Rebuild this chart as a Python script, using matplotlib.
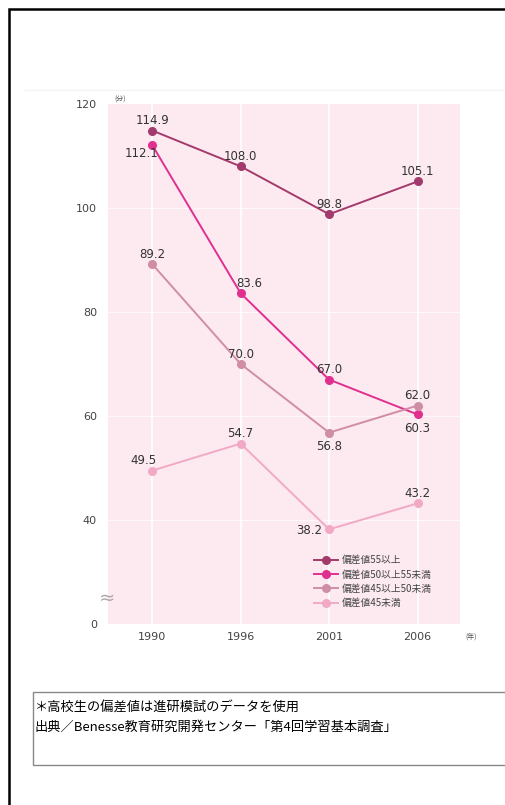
"""plot.py: study time by deviation score band"""
import matplotlib
matplotlib.use("Agg")
import matplotlib.pyplot as plt
from matplotlib.patches import Rectangle
from matplotlib.lines import Line2D

plt.rcParams['font.family'] = ['Noto Sans CJK JP', 'DejaVu Sans']

YEARS = ['1990', '1996', '2001', '2006']
SERIES_NAMES = ['偏差値55以上', '偏差値50以上55未満', '偏差値45以上50未満', '偏差値45未満']
DEV55 = [114.9, 108.0, 98.8, 105.1]
DEV50 = [112.1, 83.6, 67.0, 60.3]
DEV45 = [89.2, 70.0, 56.8, 62.0]
DEV_LOW = [49.5, 54.7, 38.2, 43.2]
Y_TICKS = [20, 40, 60, 80, 100, 120]
Y_TICK_LABELS = ['0', '40', '60', '80', '100', '120']
NOTE_LINES = ['＊高校生の偏差値は進研模試のデータを使用',
              '出典／Benesse教育研究開発センター「第4回学習基本調査」']

COLORS = ['#a33a6c', '#e0308f', '#cf8ea6', '#f2a9c6']
# label offsets in points (dx, dy) for each series / point
OFFSETS = [
    [(0, 7), (0, 7), (0, 7), (0, 7)],
    [(-8, -6), (6, 7), (0, 7), (0, -10)],
    [(0, 7), (0, 7), (0, -10), (0, 7)],
    [(-6, 7), (0, 7), (-14, -1), (0, 7)],
]

W, H = 505, 805
fig = plt.figure(figsize=(W / 100, H / 100), dpi=100)
fig.patch.set_facecolor('white')

# outer frame (open to the right and bottom)
fig.patches.append(Rectangle((9 / W, -0.05), 1.2, 1 - 9 / H + 0.05, transform=fig.transFigure,
                             fill=False, edgecolor='black', linewidth=1.8))
fig.lines.append(Line2D([25 / W, 1], [1 - 90 / H] * 2, transform=fig.transFigure,
                        color='#f3f3f0', linewidth=1))

ax = fig.add_axes([108 / W, 1 - 624 / H, 352 / W, 520 / H])
ax.set_facecolor('#fde9f0')
for s in ax.spines.values():
    s.set_visible(False)

x = list(range(len(YEARS)))
ax.set_xlim(-0.5, 3.48)
ax.set_ylim(20, 120)

for xi in x:
    ax.axvline(xi, color='white', linewidth=1.2, zorder=1)
for yv in [40, 60, 80, 100]:
    ax.axhline(yv, color='white', linewidth=0.8, alpha=0.7, zorder=1)

all_series = [DEV55, DEV50, DEV45, DEV_LOW]
handles = []
for vals, name, col, offs in zip(all_series, SERIES_NAMES, COLORS, OFFSETS):
    h, = ax.plot(x, vals, color=col, linewidth=1.4, marker='o', markersize=5.5,
                 label=name, zorder=3)
    handles.append(h)
    for xi, v, (dx, dy) in zip(x, vals, offs):
        ax.annotate(f'{v:.1f}', (xi, v), xytext=(dx, dy), textcoords='offset points',
                    ha='center', va='center', fontsize=8.5, color='#333333',
                    family=['DejaVu Sans'])

ax.set_xticks(x)
ax.set_xticklabels(YEARS, family=['DejaVu Sans'])
ax.set_yticks(Y_TICKS)
ax.set_yticklabels(Y_TICK_LABELS, family=['DejaVu Sans'])
ax.tick_params(length=0, labelsize=8, labelcolor='#444444')
ax.tick_params(axis='x', pad=6)
ax.tick_params(axis='y', pad=8)

ax.text(0.018, 1.0, '(分)', transform=ax.transAxes, fontsize=5, color='#555555',
        ha='left', va='bottom')
ax.text(1.015, -0.025, '(年)', transform=ax.transAxes, fontsize=5, color='#555555',
        ha='left', va='center')
ax.text(-0.003, 25.0, '≈', transform=ax.get_yaxis_transform(), fontsize=14,
        color='#aaaaaa', ha='center', va='center', family=['DejaVu Sans'])

leg = ax.legend(handles=handles, loc='upper left', bbox_to_anchor=(0.575, 0.14),
                frameon=False, fontsize=7, handlelength=2.4, labelspacing=0.45,
                handletextpad=0.4, borderaxespad=0)
for t in leg.get_texts():
    t.set_color('#444444')

# note box
fig.patches.append(Rectangle((33 / W, 1 - 765 / H), 1.0, 73 / H, transform=fig.transFigure,
                             fill=False, edgecolor='#888888', linewidth=1))
for i, line in enumerate(NOTE_LINES):
    fig.text(35 / W, 1 - (708 + 19 * i) / H, line, fontsize=9.5, color='black',
             ha='left', va='center')

fig.savefig('out.png', dpi=100)
